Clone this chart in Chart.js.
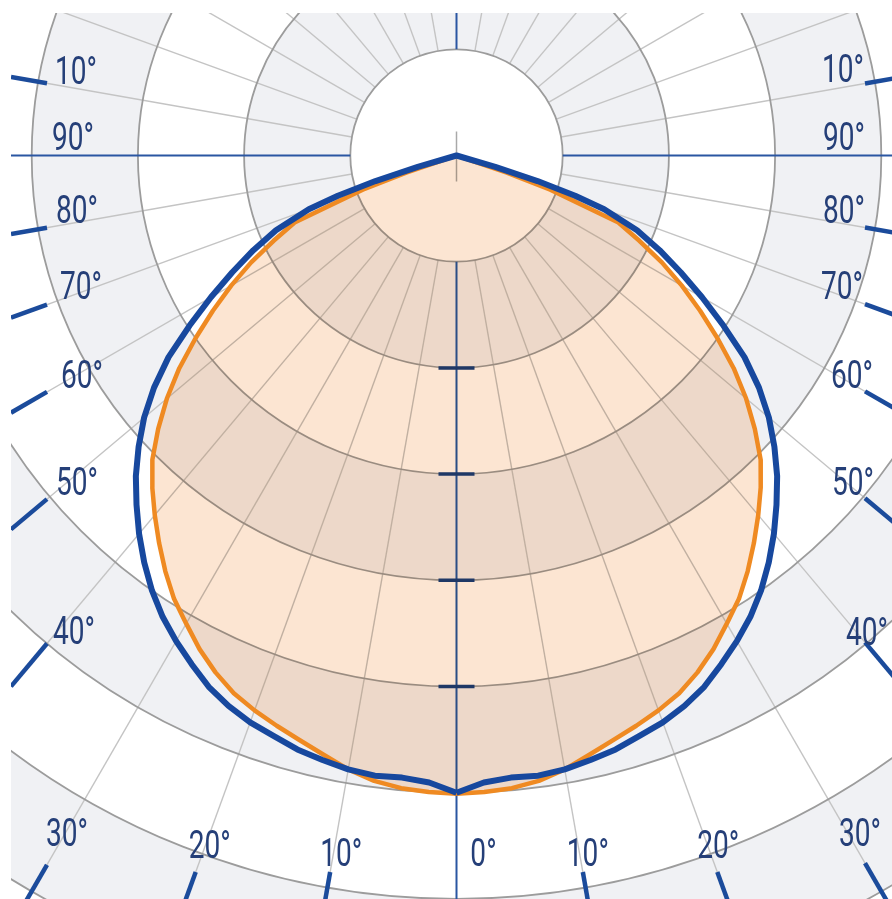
<!DOCTYPE html>
<html>
<head>
<meta charset="utf-8">
<script src="https://cdn.jsdelivr.net/npm/chart.js@4/dist/chart.umd.min.js"></script>
<style>
  html, body { margin: 0; padding: 0; background: #ffffff; overflow: hidden; }
  #wrap { width: 892px; height: 899px; }
</style>
</head>
<body>
<div id="wrap"><canvas id="ldc" width="892" height="899"></canvas></div>
<script>
// Luminous intensity profile, gamma angle (deg) from nadir, cd/klm (grid step 100)
const ANGLES    = [0, 2.5, 5, 7.5, 10, 12.5, 15, 17.5, 20, 22.5, 25, 27.5, 30, 32.5, 35, 37.5, 40,
                   42.5, 45, 47.5, 50, 52.5, 55, 57.5, 60, 62.5, 65, 67.5, 70, 71.25, 72.5, 73.75,
                   75, 90, 180];
const BLUE_CD   = [600, 591, 588, 589, 587, 583, 579, 573, 568, 561, 552, 540, 528, 515, 500, 483, 465,
                   446, 427, 406, 384, 359, 331, 298, 267, 238, 211, 184, 148, 118, 80, 38,
                   0, 0, 0];
const ORANGE_CD = [601, 600, 598, 594, 587, 578, 570, 563, 556, 548, 537, 524, 509, 495, 478, 460, 442,
                   424, 405, 381, 356, 329, 300, 272, 245, 218, 190, 165, 94, 50, 0, 0,
                   0, 0, 0];

// Angle scale around the frame: negative = left half, positive = right half
const LABEL_ANGLES = [-100, -90, -80, -70, -60, -50, -40, -30, -20, -10, 0,
                       10, 20, 30, 40, 50, 60, 70, 80, 90, 100];
const LABEL_TEXT   = ['10°', '90°', '80°', '70°', '60°', '50°', '40°', '30°', '20°', '10°', '0°',
                      '10°', '20°', '30°', '40°', '50°', '60°', '70°', '80°', '90°', '10°'];

// ---- layout ----
const W = 892, H = 899;
const CX = 456.5, CY = 155.5;          // pole position in pixels
const PX_PER_UNIT = 1.062;             // pixels per cd/klm
const RING_STEP = 100;
const RING_COUNT = 10;
const SPOKE_STEP = 10;
const AXIS_TICK_RINGS = [2, 3, 4, 5];
const FRAME = { left: 11, top: 13, right: 901, bottom: 907 };
const INNER = { left: 47, top: 49, right: 865, bottom: 872 };
const SIDE_OFFSET = { left: [30, -19], right: [-21, -18], bottom: [10, -22] };
const LABEL_NUDGE = {
  '-100': [-1, 6], '-90': [-4, 0], '-80': [0, 0], '-70': [4, 0], '-60': [5, 1], '-50': [0, 1],
  '-40': [-3, 6], '-30': [-10, -14], '-20': [4, -6], '-10': [1, 2], '0': [17, 2],
  '10': [-5, 2], '20': [-9, -6], '30': [16, -13], '40': [23, 7], '50': [9, 1], '60': [8, 1],
  '70': [-2, -1], '80': [0, 0], '90': [0, -1], '100': [-1, 3]
};

const COLORS = {
  band: '#f0f1f4', circle: '#9c9c9c', spoke: '#c4c4c4', axis: '#2a56a2',
  axisTick: '#1f3e7c', angleTick: '#1b4b9b', label: '#253f78',
  blue: '#17489e', orange: '#ef8a22', fill: 'rgb(252,229,210)'
};

// C0 / C180 halves are identical: walk the left half up, then the right half down
function profileToXY(angles, values) {
  const pts = [];
  for (let i = 0; i < angles.length; i++) {
    const t = angles[i] * Math.PI / 180;
    pts.push({ x: -values[i] * Math.sin(t), y: -values[i] * Math.cos(t) });
  }
  for (let i = angles.length - 1; i >= 0; i--) {
    const t = angles[i] * Math.PI / 180;
    pts.push({ x: values[i] * Math.sin(t), y: -values[i] * Math.cos(t) });
  }
  return pts;
}

const bluePts = profileToXY(ANGLES, BLUE_CD);
const orangePts = profileToXY(ANGLES, ORANGE_CD);
const FILL_INDEX = 2;

function rayExit(cx, cy, ux, uy, rect) {
  let t = Infinity;
  if (ux < 0) t = Math.min(t, (rect.left - cx) / ux);
  if (ux > 0) t = Math.min(t, (rect.right - cx) / ux);
  if (uy > 0) t = Math.min(t, (rect.bottom - cy) / uy);
  if (uy < 0) t = Math.min(t, (rect.top - cy) / uy);
  return t;
}

function geometry(chart) {
  const xs = chart.scales.x, ys = chart.scales.y;
  const cx = xs.getPixelForValue(0), cy = ys.getPixelForValue(0);
  const ring = xs.getPixelForValue(RING_STEP) - cx;
  return { cx, cy, ring };
}

function drawBackdrop(chart) {
  const ctx = chart.ctx;
  const { cx, cy, ring } = geometry(chart);
  ctx.save();
  ctx.fillStyle = '#ffffff';
  ctx.fillRect(0, 0, W, H);
  ctx.beginPath();
  ctx.rect(FRAME.left, FRAME.top, FRAME.right - FRAME.left, FRAME.bottom - FRAME.top);
  ctx.clip();

  // alternating bands
  for (let k = RING_COUNT; k >= 1; k--) {
    ctx.beginPath();
    ctx.arc(cx, cy, k * ring, 0, Math.PI * 2);
    ctx.fillStyle = k % 2 === 0 ? COLORS.band : '#ffffff';
    ctx.fill();
  }

  // spokes
  ctx.strokeStyle = COLORS.spoke;
  ctx.lineWidth = 1.4;
  for (let a = 0; a < 360; a += SPOKE_STEP) {
    if (a % 90 === 0) continue;
    const t = a * Math.PI / 180, s = Math.sin(t), c = Math.cos(t);
    ctx.beginPath();
    ctx.moveTo(cx + s * ring, cy + c * ring);
    ctx.lineTo(cx + s * ring * RING_COUNT, cy + c * ring * RING_COUNT);
    ctx.stroke();
  }

  // circles
  ctx.strokeStyle = COLORS.circle;
  ctx.lineWidth = 1.8;
  for (let k = 1; k <= RING_COUNT; k++) {
    ctx.beginPath();
    ctx.arc(cx, cy, k * ring, 0, Math.PI * 2);
    ctx.stroke();
  }

  // main axes (interrupted by the central disc)
  ctx.strokeStyle = COLORS.axis;
  ctx.lineWidth = 2;
  ctx.beginPath();
  ctx.moveTo(cx, 0); ctx.lineTo(cx, cy - ring);
  ctx.moveTo(cx, cy + ring); ctx.lineTo(cx, H);
  ctx.moveTo(0, cy); ctx.lineTo(cx - ring, cy);
  ctx.moveTo(cx + ring, cy); ctx.lineTo(W, cy);
  ctx.stroke();

  // pole marker
  ctx.strokeStyle = '#a9a9a9';
  ctx.lineWidth = 1.5;
  ctx.beginPath();
  ctx.moveTo(cx, cy - 24); ctx.lineTo(cx, cy + 26);
  ctx.stroke();

  // intensity ticks on the nadir axis
  ctx.strokeStyle = COLORS.axisTick;
  ctx.lineWidth = 3.5;
  ctx.beginPath();
  AXIS_TICK_RINGS.forEach(k => {
    ctx.moveTo(cx - 18, cy + k * ring);
    ctx.lineTo(cx + 18, cy + k * ring);
  });
  ctx.stroke();

  // angle ticks on the frame
  ctx.strokeStyle = COLORS.angleTick;
  ctx.lineWidth = 4.5;
  ctx.lineCap = 'butt';
  LABEL_ANGLES.forEach(a => {
    if (a === 0 || Math.abs(a) === 90) return;
    const t = a * Math.PI / 180, ux = Math.sin(t), uy = Math.cos(t);
    const t0 = rayExit(cx, cy, ux, uy, INNER), t1 = rayExit(cx, cy, ux, uy, FRAME);
    ctx.beginPath();
    ctx.moveTo(cx + ux * t0, cy + uy * t0);
    ctx.lineTo(cx + ux * t1, cy + uy * t1);
    ctx.stroke();
  });
  ctx.restore();
}

function drawAngleLabels(chart) {
  const ctx = chart.ctx;
  const { cx, cy } = geometry(chart);
  const size = 39;
  ctx.save();
  ctx.fillStyle = COLORS.label;
  ctx.font = '400 ' + size + 'px Roboto, "DejaVu Sans", sans-serif';
  ctx.textAlign = 'center';
  ctx.textBaseline = 'alphabetic';
  LABEL_ANGLES.forEach((a, i) => {
    const t = a * Math.PI / 180, ux = Math.sin(t), uy = Math.cos(t);
    const d = rayExit(cx, cy, ux, uy, INNER);
    const px = cx + ux * d, py = cy + uy * d;
    let side = 'bottom';
    if (Math.abs(px - INNER.left) < 0.5) side = 'left';
    else if (Math.abs(px - INNER.right) < 0.5) side = 'right';
    const off = SIDE_OFFSET[side];
    const nudge = LABEL_NUDGE[String(a)] || [0, 0];
    const lx = px + off[0] + nudge[0];
    const ly = py + off[1] + nudge[1];
    ctx.save();
    ctx.translate(lx, ly + size * 0.355);
    ctx.scale(0.72, 1);
    ctx.fillText(LABEL_TEXT[i], 0, 0);
    ctx.restore();
  });
  ctx.restore();
}

const polarBackdrop = {
  id: 'polarBackdrop',
  beforeDatasetsDraw(chart) {
    drawBackdrop(chart);
    chart.ctx.globalCompositeOperation = 'multiply';
  },
  afterDatasetDraw(chart, args) {
    if (args.index === FILL_INDEX) chart.ctx.globalCompositeOperation = 'source-over';
  },
  afterDatasetsDraw(chart) {
    chart.ctx.globalCompositeOperation = 'source-over';
    drawAngleLabels(chart);
  }
};

new Chart(document.getElementById('ldc'), {
  type: 'line',
  data: {
    datasets: [
      { label: 'C0-C180 (outer)', data: bluePts, borderColor: COLORS.blue, borderWidth: 6,
        fill: false, pointRadius: 0, tension: 0, borderJoinStyle: 'round' },
      { label: 'C90-C270', data: orangePts, borderColor: COLORS.orange, borderWidth: 4.5,
        fill: false, pointRadius: 0, tension: 0, borderJoinStyle: 'round' },
      { label: 'C90-C270 area', data: orangePts, borderColor: 'rgba(0,0,0,0)', borderWidth: 1,
        backgroundColor: COLORS.fill, fill: 'shape', pointRadius: 0, tension: 0 }
    ]
  },
  options: {
    responsive: false,
    animation: false,
    devicePixelRatio: 1,
    layout: { padding: 0 },
    scales: {
      x: { type: 'linear', display: false, min: -CX / PX_PER_UNIT, max: (W - CX) / PX_PER_UNIT },
      y: { type: 'linear', display: false, min: -(H - CY) / PX_PER_UNIT, max: CY / PX_PER_UNIT }
    },
    plugins: { legend: { display: false }, tooltip: { enabled: false } },
    elements: { point: { radius: 0 } }
  },
  plugins: [polarBackdrop]
});
</script>
</body>
</html>
